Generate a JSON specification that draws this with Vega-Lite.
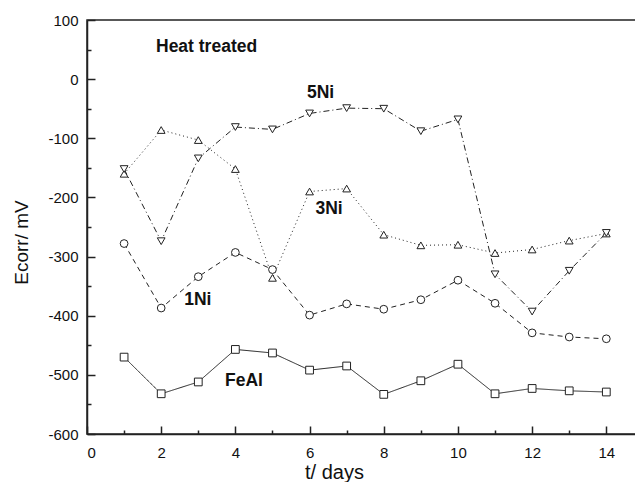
{
  "$schema": "https://vega.github.io/schema/vega-lite/v6.json",
  "width": 549,
  "height": 414,
  "autosize": {"type": "none"},
  "padding": {"left": 87, "top": 20, "right": 0, "bottom": 48},
  "background": "white",
  "config": {
    "view": {"stroke": "#222", "strokeWidth": 1.5},
    "font": "Liberation Sans",
    "axis": {
      "grid": false,
      "domainColor": "#222",
      "domainWidth": 1.5,
      "tickColor": "#222",
      "tickWidth": 1.5,
      "labelFont": "Liberation Sans",
      "labelFontSize": 15,
      "labelColor": "#111",
      "titleFont": "Liberation Sans",
      "titleFontWeight": "normal",
      "titleFontSize": 20,
      "titleColor": "#111"
    }
  },
  "datasets": {
    "series": [
      {"day": 1, "series": "FeAl", "E": -470},
      {"day": 2, "series": "FeAl", "E": -532},
      {"day": 3, "series": "FeAl", "E": -512},
      {"day": 4, "series": "FeAl", "E": -457},
      {"day": 5, "series": "FeAl", "E": -463},
      {"day": 6, "series": "FeAl", "E": -492},
      {"day": 7, "series": "FeAl", "E": -485},
      {"day": 8, "series": "FeAl", "E": -533},
      {"day": 9, "series": "FeAl", "E": -510},
      {"day": 10, "series": "FeAl", "E": -482},
      {"day": 11, "series": "FeAl", "E": -532},
      {"day": 12, "series": "FeAl", "E": -523},
      {"day": 13, "series": "FeAl", "E": -527},
      {"day": 14, "series": "FeAl", "E": -529},
      {"day": 1, "series": "1Ni", "E": -278},
      {"day": 2, "series": "1Ni", "E": -387},
      {"day": 3, "series": "1Ni", "E": -334},
      {"day": 4, "series": "1Ni", "E": -293},
      {"day": 5, "series": "1Ni", "E": -322},
      {"day": 6, "series": "1Ni", "E": -399},
      {"day": 7, "series": "1Ni", "E": -380},
      {"day": 8, "series": "1Ni", "E": -389},
      {"day": 9, "series": "1Ni", "E": -373},
      {"day": 10, "series": "1Ni", "E": -340},
      {"day": 11, "series": "1Ni", "E": -379},
      {"day": 12, "series": "1Ni", "E": -429},
      {"day": 13, "series": "1Ni", "E": -436},
      {"day": 14, "series": "1Ni", "E": -439},
      {"day": 1, "series": "3Ni", "E": -160},
      {"day": 2, "series": "3Ni", "E": -86},
      {"day": 3, "series": "3Ni", "E": -103},
      {"day": 4, "series": "3Ni", "E": -152},
      {"day": 5, "series": "3Ni", "E": -336},
      {"day": 6, "series": "3Ni", "E": -190},
      {"day": 7, "series": "3Ni", "E": -185},
      {"day": 8, "series": "3Ni", "E": -263},
      {"day": 9, "series": "3Ni", "E": -281},
      {"day": 10, "series": "3Ni", "E": -280},
      {"day": 11, "series": "3Ni", "E": -294},
      {"day": 12, "series": "3Ni", "E": -288},
      {"day": 13, "series": "3Ni", "E": -273},
      {"day": 14, "series": "3Ni", "E": -261},
      {"day": 1, "series": "5Ni", "E": -152},
      {"day": 2, "series": "5Ni", "E": -274},
      {"day": 3, "series": "5Ni", "E": -134},
      {"day": 4, "series": "5Ni", "E": -81},
      {"day": 5, "series": "5Ni", "E": -85},
      {"day": 6, "series": "5Ni", "E": -58},
      {"day": 7, "series": "5Ni", "E": -49},
      {"day": 8, "series": "5Ni", "E": -50},
      {"day": 9, "series": "5Ni", "E": -88},
      {"day": 10, "series": "5Ni", "E": -68},
      {"day": 11, "series": "5Ni", "E": -330},
      {"day": 12, "series": "5Ni", "E": -393},
      {"day": 13, "series": "5Ni", "E": -324},
      {"day": 14, "series": "5Ni", "E": -260}
    ],
    "labels": [
      {"day": 1.86, "E": 55, "text": "Heat treated"},
      {"day": 5.93, "E": -23, "text": "5Ni"},
      {"day": 6.16, "E": -220, "text": "3Ni"},
      {"day": 2.62, "E": -373, "text": "1Ni"},
      {"day": 3.72, "E": -510, "text": "FeAl"}
    ]
  },
  "resolve": {"axis": {"x": "independent", "y": "independent"}},
  "layer": [
    {
      "data": {"name": "series"},
      "mark": {"type": "line", "color": "#222", "strokeWidth": 1},
      "encoding": {
        "x": {
          "field": "day", "type": "quantitative",
          "scale": {"domain": [0, 14.8], "nice": false, "zero": false},
          "axis": {
            "orient": "bottom",
            "title": "t/ days",
            "values": [0,2,4,6,8,10,12,14],
            "labelExpr": "'' + datum.value",
            "tickSize": -8,
            "labelPadding": 19,
            "titleX": 247,
            "titleY": 28,
            "titleBaseline": "top"
          }
        },
        "y": {
          "field": "E", "type": "quantitative",
          "scale": {"domain": [-600, 100], "nice": false, "zero": false},
          "axis": {
            "orient": "left",
            "title": "Ecorr/ mV",
            "titleFontSize": 19,
            "values": [-600,-500,-400,-300,-200,-100,0,100],
            "labelExpr": "'' + datum.value",
            "tickSize": -8,
            "labelPadding": 17,
            "titleX": -60,
            "titleY": 222,
            "titleBaseline": "alphabetic"
          }
        },
        "detail": {"field": "series"},
        "strokeDash": {
          "field": "series", "type": "nominal",
          "scale": {"domain": ["FeAl", "1Ni", "3Ni", "5Ni"], "range": [[1, 0], [5, 4], [1, 3], [6, 3, 1, 3]]},
          "legend": null
        }
      }
    },
    {
      "data": {"name": "series"},
      "mark": {"type": "point", "fill": "white", "stroke": "#222", "strokeWidth": 1, "opacity": 1, "size": 60},
      "encoding": {
        "x": {
          "field": "day", "type": "quantitative",
          "axis": {"orient": "bottom", "values": [1,3,5,7,9,11,13], "labels": false, "tickSize": -4, "domain": false, "title": null}
        },
        "y": {
          "field": "E", "type": "quantitative",
          "axis": {"orient": "left", "values": [-550,-450,-350,-250,-150,-50,50], "labels": false, "tickSize": -4, "domain": false, "title": null}
        },
        "shape": {
          "field": "series", "type": "nominal",
          "scale": {"domain": ["FeAl", "1Ni", "3Ni", "5Ni"], "range": ["square", "circle", "triangle-up", "triangle-down"]},
          "legend": null
        }
      }
    },
    {
      "data": {"name": "labels"},
      "mark": {"type": "text", "align": "left", "baseline": "middle", "fontWeight": "bold", "fontSize": 17.5, "color": "#111", "font": "Liberation Sans"},
      "encoding": {
        "x": {"field": "day", "type": "quantitative", "axis": null},
        "y": {"field": "E", "type": "quantitative", "axis": null},
        "text": {"field": "text"}
      }
    }
  ]
}
